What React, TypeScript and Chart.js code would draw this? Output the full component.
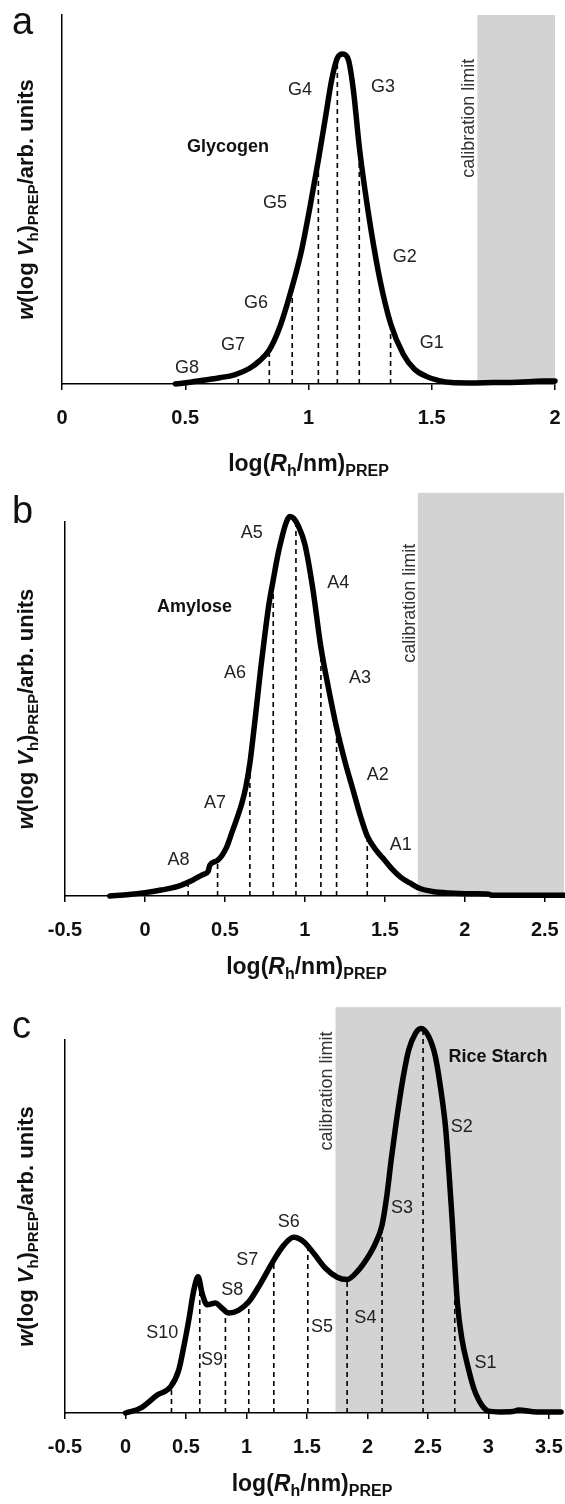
import React, { useEffect, useRef } from 'react';
import { Chart, registerables } from 'chart.js';

Chart.register(...registerables);

const FONT = "'Liberation Sans', Arial, Helvetica, sans-serif";

// ---------- Panel a: Glycogen ----------
const glycogenLogRh = [0.46, 0.52, 0.58, 0.64, 0.70, 0.76, 0.80, 0.841, 0.884, 0.934, 0.972, 1.006, 1.04, 1.067, 1.094, 1.117, 1.139, 1.162, 1.182, 1.206, 1.229, 1.256, 1.29, 1.333, 1.385, 1.43, 1.48, 1.53, 1.58, 1.65, 1.75, 1.85, 1.95, 2.0];
const glycogenW = [0.0, 0.005, 0.011, 0.017, 0.025, 0.042, 0.062, 0.092, 0.155, 0.264, 0.363, 0.48, 0.607, 0.715, 0.824, 0.883, 0.894, 0.878, 0.797, 0.643, 0.526, 0.408, 0.282, 0.164, 0.08, 0.04, 0.02, 0.009, 0.004, 0.003, 0.004, 0.005, 0.008, 0.008];
const glycogenCuts = [0.715, 0.841, 0.934, 1.04, 1.117, 1.206, 1.333];
const glycogenTicks = [0, 0.5, 1, 1.5, 2];
const glycogenLabels = ['G1', 'G2', 'G3', 'G4', 'G5', 'G6', 'G7', 'G8'];
const glycogenLabelX = [1.50, 1.39, 1.302, 0.966, 0.864, 0.787, 0.694, 0.507];
const glycogenLabelY = [0.11, 0.344, 0.805, 0.797, 0.49, 0.22, 0.106, 0.043];

// ---------- Panel b: Amylose ----------
const amyloseLogRh = [-0.22, -0.1, 0.0, 0.1, 0.2, 0.3, 0.36, 0.395, 0.405, 0.454, 0.51, 0.542, 0.573, 0.604, 0.63, 0.656, 0.68, 0.702, 0.725, 0.75, 0.775, 0.802, 0.83, 0.854, 0.88, 0.906, 0.93, 0.958, 1.0, 1.05, 1.10, 1.15, 1.198, 1.25, 1.30, 1.35, 1.39, 1.45, 1.50, 1.55, 1.60, 1.656, 1.72, 1.8, 1.9, 2.05, 2.15, 2.17, 2.4, 2.62];
const amyloseW = [0.0, 0.004, 0.009, 0.016, 0.025, 0.043, 0.057, 0.066, 0.082, 0.095, 0.13, 0.168, 0.205, 0.245, 0.29, 0.355, 0.44, 0.524, 0.613, 0.70, 0.78, 0.845, 0.91, 0.955, 0.995, 1.015, 1.01, 0.99, 0.94, 0.82, 0.665, 0.55, 0.45, 0.36, 0.285, 0.21, 0.16, 0.12, 0.095, 0.07, 0.05, 0.035, 0.02, 0.012, 0.008, 0.006, 0.005, 0.002, 0.002, 0.002];
const amyloseCuts = [0.27, 0.454, 0.656, 0.802, 0.944, 1.10, 1.198, 1.39];
const amyloseTicks = [-0.5, 0, 0.5, 1, 1.5, 2, 2.5];
const amyloseLabels = ['A1', 'A2', 'A3', 'A4', 'A5', 'A6', 'A7', 'A8'];
const amyloseLabelX = [1.60, 1.456, 1.344, 1.208, 0.667, 0.5625, 0.4375, 0.21];
const amyloseLabelY = [0.136, 0.324, 0.583, 0.836, 0.97, 0.596, 0.249, 0.096];

// ---------- Panel c: Rice starch ----------
const riceLogRh = [0.0, 0.124, 0.262, 0.372, 0.44, 0.482, 0.523, 0.565, 0.60, 0.634, 0.675, 0.744, 0.785, 0.854, 0.937, 1.019, 1.116, 1.226, 1.309, 1.39, 1.474, 1.556, 1.653, 1.75, 1.832, 1.915, 1.998, 2.066, 2.121, 2.163, 2.196, 2.237, 2.287, 2.341, 2.397, 2.443, 2.507, 2.562, 2.603, 2.645, 2.675, 2.70, 2.722, 2.745, 2.78, 2.83, 2.88, 2.92, 2.96, 3.0, 3.1, 3.2, 3.25, 3.4, 3.6];
const riceW = [0.0, 0.013, 0.048, 0.07, 0.115, 0.178, 0.249, 0.33, 0.365, 0.32, 0.29, 0.295, 0.285, 0.268, 0.276, 0.298, 0.347, 0.41, 0.45, 0.471, 0.459, 0.428, 0.388, 0.364, 0.358, 0.379, 0.415, 0.455, 0.504, 0.589, 0.678, 0.777, 0.884, 0.973, 1.018, 1.031, 1.009, 0.955, 0.875, 0.768, 0.64, 0.52, 0.40, 0.29, 0.2, 0.125, 0.065, 0.035, 0.015, 0.005, 0.003, 0.004, 0.008, 0.003, 0.003];
const riceCuts = [0.38, 0.614, 0.826, 1.019, 1.226, 1.507, 1.832, 2.121, 2.46, 2.722];
const riceTicks = [-0.5, 0, 0.5, 1, 1.5, 2, 2.5, 3, 3.5];
const riceLabels = ['S1', 'S2', 'S3', 'S4', 'S5', 'S6', 'S7', 'S8', 'S9', 'S10'];
const riceLabelX = [2.975, 2.78, 2.286, 1.983, 1.625, 1.35, 1.006, 0.882, 0.716, 0.303];
const riceLabelY = [0.133, 0.768, 0.549, 0.254, 0.231, 0.513, 0.41, 0.33, 0.142, 0.214];

type Part = { t: string; b?: boolean; i?: boolean; sub?: boolean };

const yTitleParts: Part[] = [
  { t: 'w', b: true, i: true },
  { t: '(log ', b: true },
  { t: 'V', b: true, i: true },
  { t: 'h', b: true, sub: true },
  { t: ')', b: true },
  { t: 'PREP', b: true, sub: true },
  { t: '/arb. units', b: true },
];
const xTitleParts: Part[] = [
  { t: 'log(', b: true },
  { t: 'R', b: true, i: true },
  { t: 'h', b: true, sub: true },
  { t: '/nm)', b: true },
  { t: 'PREP', b: true, sub: true },
];

interface PanelSpec {
  letter: string;
  name: string;
  xs: number[];
  ys: number[];
  cuts: number[];
  ticks: number[];
  xMin: number;
  xMax: number;
  labels: string[];
  labelX: number[];
  labelY: number[];
  nameX: number;
  nameY: number;
  calStart: number;
  calTop: number;
  calTextY: number;
  top: number;
  height: number;
  chartTop: number;
  chartBottom: number;
  left: number;
  right: number;
  letterBase: number;
  titleBase: number;
  titleShift: number;
}

const panels: PanelSpec[] = [
  {
    letter: 'a', name: 'Glycogen',
    xs: glycogenLogRh, ys: glycogenW, cuts: glycogenCuts, ticks: glycogenTicks,
    xMin: 0, xMax: 2,
    labels: glycogenLabels, labelX: glycogenLabelX, labelY: glycogenLabelY,
    nameX: 0.673, nameY: 0.642,
    calStart: 1.685, calTop: 1.0, calTextY: 0.72,
    top: 0, height: 492, chartTop: 15, chartBottom: 384, left: 62, right: 555,
    letterBase: 34, titleBase: 471, titleShift: 0,
  },
  {
    letter: 'b', name: 'Amylose',
    xs: amyloseLogRh, ys: amyloseW, cuts: amyloseCuts, ticks: amyloseTicks,
    xMin: -0.5, xMax: 2.62,
    labels: amyloseLabels, labelX: amyloseLabelX, labelY: amyloseLabelY,
    nameX: 0.31, nameY: 0.773,
    calStart: 1.706, calTop: 1.078, calTextY: 0.783,
    top: 492, height: 503, chartTop: 30, chartBottom: 404, left: 65, right: 564,
    letterBase: 31, titleBase: 482, titleShift: -8,
  },
  {
    letter: 'c', name: 'Rice Starch',
    xs: riceLogRh, ys: riceW, cuts: riceCuts, ticks: riceTicks,
    xMin: -0.5, xMax: 3.6,
    labels: riceLabels, labelX: riceLabelX, labelY: riceLabelY,
    nameX: 3.08, nameY: 0.954,
    calStart: 1.736, calTop: 1.088, calTextY: 0.863,
    top: 995, height: 509, chartTop: 45, chartBottom: 418, left: 65, right: 561,
    letterBase: 43, titleBase: 496, titleShift: -1,
  },
];

function interp(xs: number[], ys: number[], x: number): number {
  for (let i = 0; i < xs.length - 1; i++) {
    if (x >= xs[i] && x <= xs[i + 1]) {
      const t = (x - xs[i]) / (xs[i + 1] - xs[i]);
      return ys[i] + t * (ys[i + 1] - ys[i]);
    }
  }
  return 0;
}

function partFont(p: Part, size: number) {
  return `${p.i ? 'italic ' : ''}${p.b ? 'bold ' : ''}${size}px ${FONT}`;
}

// draws rich text centred horizontally on (0, 0) with baseline at y = 0
function drawRich(ctx: CanvasRenderingContext2D, parts: Part[], size: number, subSize: number, drop: number) {
  let total = 0;
  const widths = parts.map((p) => {
    ctx.font = partFont(p, p.sub ? subSize : size);
    const w = ctx.measureText(p.t).width;
    total += w;
    return w;
  });
  let x = -total / 2;
  ctx.textAlign = 'left';
  ctx.textBaseline = 'alphabetic';
  parts.forEach((p, k) => {
    ctx.font = partFont(p, p.sub ? subSize : size);
    ctx.fillText(p.t, x, p.sub ? drop : 0);
    x += widths[k];
  });
}

function Panel({ spec }: { spec: PanelSpec }) {
  const ref = useRef<HTMLCanvasElement>(null);

  useEffect(() => {
    const canvas = ref.current;
    if (!canvas) return;

    const deco = {
      id: 'deco',
      beforeDraw(chart: any) {
        const { ctx, scales } = chart;
        const xs = scales.x;
        const ys = scales.y;
        ctx.save();
        ctx.fillStyle = '#d3d3d3';
        const x1 = xs.getPixelForValue(spec.calStart);
        const x2 = xs.right;
        const y1 = ys.getPixelForValue(spec.calTop);
        const y2 = ys.getPixelForValue(0);
        ctx.fillRect(x1, y1, x2 - x1, y2 - y1);
        ctx.restore();
      },
      afterDraw(chart: any) {
        const { ctx, scales } = chart;
        const xs = scales.x;
        const ys = scales.y;
        ctx.save();
        // segment labels
        ctx.fillStyle = '#222';
        ctx.font = `18px ${FONT}`;
        ctx.textAlign = 'center';
        ctx.textBaseline = 'middle';
        spec.labels.forEach((l, k) => {
          ctx.fillText(l, xs.getPixelForValue(spec.labelX[k]), ys.getPixelForValue(spec.labelY[k]));
        });
        // sample name
        ctx.fillStyle = '#111';
        ctx.font = `bold 18px ${FONT}`;
        ctx.fillText(spec.name, xs.getPixelForValue(spec.nameX), ys.getPixelForValue(spec.nameY));
        // calibration limit
        ctx.save();
        ctx.translate(xs.getPixelForValue(spec.calStart) - 8, ys.getPixelForValue(spec.calTextY));
        ctx.rotate(-Math.PI / 2);
        ctx.fillStyle = '#333';
        ctx.font = `18px ${FONT}`;
        ctx.textAlign = 'center';
        ctx.textBaseline = 'middle';
        ctx.fillText('calibration limit', 0, 0);
        ctx.restore();
        // y title
        ctx.save();
        ctx.fillStyle = '#111';
        ctx.translate(33, ys.getPixelForValue(0.5));
        ctx.rotate(-Math.PI / 2);
        drawRich(ctx, yTitleParts, 22, 15, 5);
        ctx.restore();
        // x title
        ctx.save();
        ctx.fillStyle = '#111';
        ctx.translate((xs.left + xs.right) / 2 + spec.titleShift, spec.titleBase);
        drawRich(ctx, xTitleParts, 23, 16, 5);
        ctx.restore();
        // panel letter
        ctx.fillStyle = '#111';
        ctx.font = `38px ${FONT}`;
        ctx.textAlign = 'left';
        ctx.textBaseline = 'alphabetic';
        ctx.fillText(spec.letter, 12, spec.letterBase);
        ctx.restore();
      },
    };

    const curve = {
      data: spec.xs.map((x, i) => ({ x, y: spec.ys[i] })),
      borderColor: '#000',
      borderWidth: 5.5,
      pointRadius: 0,
      cubicInterpolationMode: 'monotone' as const,
      borderJoinStyle: 'round' as const,
      borderCapStyle: 'round' as const,
      fill: false,
      clip: false as any,
    };
    const dividers = spec.cuts.map((c) => ({
      data: [
        { x: c, y: 0 },
        { x: c, y: interp(spec.xs, spec.ys, c) },
      ],
      borderColor: '#000',
      borderWidth: 1.6,
      borderDash: [5, 4],
      pointRadius: 0,
      fill: false,
      clip: false as any,
    }));

    const chart = new Chart(canvas, {
      type: 'line',
      data: { datasets: [curve, ...dividers] as any },
      options: {
        animation: false,
        responsive: false,
        devicePixelRatio: 1,
        events: [],
        layout: { padding: { top: spec.chartTop, right: 565 - spec.right, bottom: 0, left: 0 } },
        plugins: { legend: { display: false }, tooltip: { enabled: false } },
        scales: {
          x: {
            type: 'linear',
            min: spec.xMin,
            max: spec.xMax,
            afterBuildTicks: (s: any) => {
              s.ticks = spec.ticks.map((v) => ({ value: v }));
            },
            afterFit: (s: any) => {
              s.height = spec.height - spec.chartBottom;
              s.paddingLeft = 0;
              s.paddingRight = 0;
            },
            ticks: {
              callback: (v: any) => String(v),
              font: { family: FONT, size: 20, weight: 'bold' },
              color: '#111',
              padding: 16,
              maxRotation: 0,
              autoSkip: false,
            },
            grid: { display: true, drawOnChartArea: false, drawTicks: true, tickLength: 6, color: '#000', lineWidth: 1.5 },
            border: { display: true, color: '#000', width: 1.5 },
          },
          y: {
            type: 'linear',
            min: 0,
            max: 1,
            afterFit: (s: any) => {
              s.width = spec.left;
              s.paddingTop = 0;
              s.paddingBottom = 0;
            },
            ticks: { display: false },
            grid: { display: false },
            border: { display: true, color: '#000', width: 1.5 },
          },
        },
      },
      plugins: [deco],
    });

    return () => chart.destroy();
  }, [spec]);

  return (
    <canvas
      ref={ref}
      width={565}
      height={spec.height}
      style={{ position: 'absolute', left: 0, top: spec.top, width: 565, height: spec.height, display: 'block' }}
    />
  );
}

export default function App() {
  return (
    <div style={{ position: 'absolute', left: 0, top: 0, width: 565, height: 1504, background: '#fff' }}>
      {panels.map((p) => (
        <Panel key={p.letter} spec={p} />
      ))}
    </div>
  );
}
